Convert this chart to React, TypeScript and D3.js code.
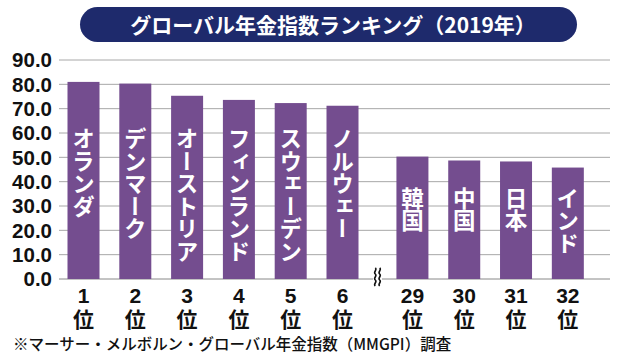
import React from "react";
import * as d3 from "d3";

const countries = ["オランダ", "デンマーク", "オーストリア", "フィンランド", "スウェーデン", "ノルウェー", "韓国", "中国", "日本", "インド"];
const ranks = ["1", "2", "3", "4", "5", "6", "29", "30", "31", "32"];
const scores = [81.0, 80.3, 75.3, 73.6, 72.3, 71.2, 50.3, 48.7, 48.3, 45.8];
const yTicks = [0, 10, 20, 30, 40, 50, 60, 70, 80, 90];
const title = "グローバル年金指数ランキング（2019年）";
const footnote = "※マーサー・メルボルン・グローバル年金指数（MMGPI）調査";
const rankSuffix = "位";

const W = 620;
const H = 364;
const CJK = "'Noto Sans CJK JP', 'Noto Sans', sans-serif";
const NUM = "'Liberation Sans', Arial, sans-serif";

export default function App() {
  const y = d3.scaleLinear().domain([0, 90]).range([279, 60]);
  const slot = (i: number) => i + (i >= 6 ? 0.35 : 0);
  const x = d3.scaleLinear().domain([0, 1]).range([83.5, 135.3]);
  const barW = 32;
  const breakX = (x(slot(5)) + x(slot(6))) / 2;

  const wave = (cx: number) => {
    const p = d3.path();
    const top = 268, seg = 6;
    p.moveTo(cx, top);
    for (let k = 0; k < 3; k++) {
      const y0 = top + k * seg;
      p.bezierCurveTo(cx + 2.5, y0 + seg * 0.33, cx - 2.5, y0 + seg * 0.66, cx, y0 + seg);
    }
    return p.toString();
  };

  return (
    <svg width={W} height={H} style={{ display: "block", position: "absolute", left: 0, top: 0, background: "#fff" }}>
      <rect x={0} y={0} width={W} height={H} fill="#fff" />
      {/* title pill */}
      <rect x={80} y={7} width={497} height={35} rx={17.5} fill="#1e2a6c" />
      <text x={333} y={32.5} textAnchor="middle" fill="#fff" fontFamily={CJK} fontWeight={700} fontSize={21}>
        {title}
      </text>

      {/* gridlines */}
      {yTicks.map((t) => (
        <line key={t} x1={59} x2={610} y1={y(t)} y2={y(t)} stroke={t === 0 ? "#888" : "#a8a8a8"} strokeWidth={1} />
      ))}
      {/* y labels */}
      {yTicks.map((t) => (
        <text key={"l" + t} x={52} y={y(t)} dy="0.36em" textAnchor="end" fontFamily={NUM} fontWeight={700} fontSize={20.5} fill="#111">
          {t.toFixed(1)}
        </text>
      ))}

      {/* bars */}
      {scores.map((v, i) => (
        <rect key={"b" + i} x={x(slot(i)) - barW / 2} y={y(v)} width={barW} height={y(0) - y(v)} fill="#744d8f" />
      ))}

      {/* vertical labels */}
      {countries.map((c, i) => (
        <text
          key={"c" + i}
          x={x(slot(i))}
          y={i < 6 ? y(62.2) : y(37.8)}
          writingMode="vertical-rl"
          fill="#fff"
          fontFamily={CJK}
          fontWeight={700}
          fontSize={22.5}
          style={{ writingMode: "vertical-rl" } as any}
        >
          {c}
        </text>
      ))}

      {/* break symbol */}
      <rect x={breakX - 4.5} y={266} width={9} height={22} fill="#fff" />
      <path d={wave(breakX - 2.2)} fill="none" stroke="#111" strokeWidth={1.6} />
      <path d={wave(breakX + 2.2)} fill="none" stroke="#111" strokeWidth={1.6} />

      {/* rank labels */}
      {ranks.map((r, i) => (
        <text key={"r" + i} textAnchor="middle" fontWeight={700} fill="#111">
          <tspan x={x(slot(i))} y={303} fontFamily={NUM} fontSize={21}>
            {r}
          </tspan>
          <tspan x={x(slot(i))} y={327} fontFamily={CJK} fontSize={21}>
            {rankSuffix}
          </tspan>
        </text>
      ))}

      {/* footnote */}
      <text x={13} y={350} fontFamily={CJK} fontWeight={500} fontSize={15.5} fill="#111">
        {footnote}
      </text>
    </svg>
  );
}
